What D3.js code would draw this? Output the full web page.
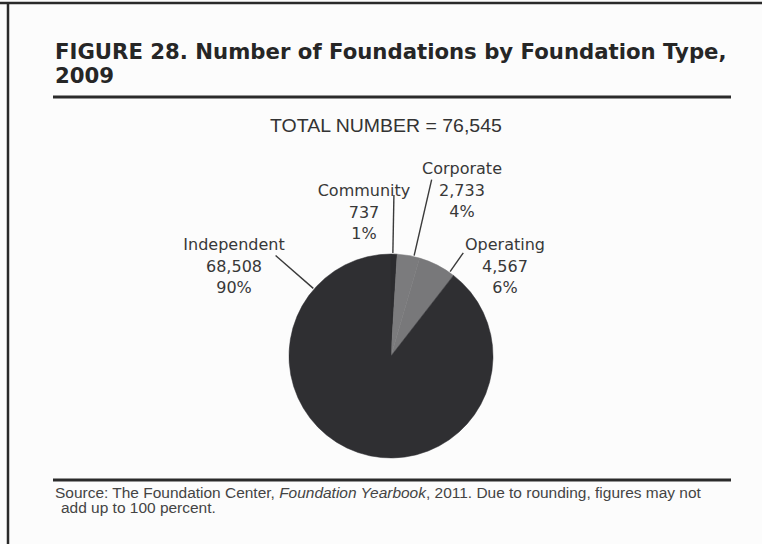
<!DOCTYPE html>
<html>
<head>
<meta charset="utf-8">
<script src="https://cdn.jsdelivr.net/npm/d3@7"></script>
<style>
  html, body { margin: 0; padding: 0; background: #ffffff; overflow: hidden; }
  svg { display: block; }
</style>
</head>
<body>
<script>
// Foundation counts by type, 2009 (clockwise from 12 o'clock)
const categories = ["Community", "Corporate", "Operating", "Independent"];
const counts = [737, 2733, 4567, 68508];
const percentLabels = ["1%", "4%", "6%", "90%"];
const totalNumber = 76545;

const titleLines = ["FIGURE 28. Number of Foundations by Foundation Type,", "2009"];

// Slice fills
const fills = {
  Community: "#2c2c2f",
  Corporate: "#7b7b7d",
  Operating: "#78787a",
  Independent: "#2f2f32"
};

// Label placement: text centre, first baseline, leader angle (fraction of slice) and leader length
const labelLayout = {
  Community:   { x: 364, y: 196, frac: 0.30, rOut: 161 },
  Corporate:   { x: 462, y: 174, frac: 0.74, rOut: 181 },
  Operating:   { x: 505, y: 250, frac: 0.87, rOut: 126 },
  Independent: { x: 234, y: 250, frac: 0.848, rOut: 153 }
};

const W = 762, H = 544;
const cx = 391, cy = 356, R = 102;
const lineGap = 21.5;
const fmt = d3.format(",");

const svg = d3.select("body").append("svg")
  .attr("width", W).attr("height", H);

svg.append("rect").attr("width", W).attr("height", H).attr("fill", "#fcfcfc");

// Frame edges (top and left)
svg.append("line").attr("x1", 0).attr("x2", W).attr("y1", 3).attr("y2", 3)
  .attr("stroke", "#2a2a2a").attr("stroke-width", 2.5);
svg.append("line").attr("x1", 8).attr("x2", 8).attr("y1", 2).attr("y2", H)
  .attr("stroke", "#2a2a2a").attr("stroke-width", 2.5);

// Place a text element at (x, baseline), scaled horizontally to a given width
function fitText(sel, x, y, width, anchor) {
  const w = sel.node().getComputedTextLength();
  const k = width / w;
  let x0 = x;
  if (anchor === "middle") x0 = x - width / 2;
  sel.attr("x", 0).attr("y", 0)
    .attr("transform", `translate(${x0},${y}) scale(${k},1)`);
  return k;
}

// Title
const titleFont = "'DejaVu Sans', sans-serif";
const t1 = svg.append("text").text(titleLines[0])
  .attr("font-family", titleFont).attr("font-weight", "bold")
  .attr("font-size", 21).attr("fill", "#262626");
const tk = fitText(t1, 55, 59, 672);
const t2 = svg.append("text").text(titleLines[1])
  .attr("font-family", titleFont).attr("font-weight", "bold")
  .attr("font-size", 21).attr("fill", "#262626")
  .attr("transform", `translate(55,83) scale(${tk},1)`);

svg.append("line").attr("x1", 53).attr("x2", 731).attr("y1", 97).attr("y2", 97)
  .attr("stroke", "#2b2b2b").attr("stroke-width", 3);

// Total
const tot = svg.append("text").text(`TOTAL NUMBER = ${fmt(totalNumber)}`)
  .attr("font-family", "'Liberation Sans', Arial, sans-serif")
  .attr("font-size", 18).attr("fill", "#333");
fitText(tot, 386, 132, 232, "middle");

// Pie
const data = categories.map((c, i) => ({ name: c, count: counts[i], pct: percentLabels[i] }));
const pie = d3.pie().sort(null).value(d => d.count).startAngle(0).endAngle(2 * Math.PI);
const arcs = pie(data);
const arc = d3.arc().innerRadius(0).outerRadius(R);

const g = svg.append("g").attr("transform", `translate(${cx},${cy})`);
g.selectAll("path.slice").data(arcs).join("path")
  .attr("class", "slice")
  .attr("d", arc)
  .attr("fill", d => fills[d.data.name])
  .attr("stroke", d => fills[d.data.name])
  .attr("stroke-width", 0.5);

// Leader lines
g.selectAll("line.leader").data(arcs).join("line")
  .attr("class", "leader")
  .each(function (d) {
    const L = labelLayout[d.data.name];
    const a = d.startAngle + (d.endAngle - d.startAngle) * L.frac;
    d3.select(this)
      .attr("x1", (R + 1) * Math.sin(a)).attr("y1", -(R + 1) * Math.cos(a))
      .attr("x2", L.rOut * Math.sin(a)).attr("y2", -L.rOut * Math.cos(a));
  })
  .attr("stroke", "#3a3a3a").attr("stroke-width", 1.4);

// Labels: name, count, percent
const labelFont = "'DejaVu Sans', sans-serif";
arcs.forEach(d => {
  const L = labelLayout[d.data.name];
  const lines = [d.data.name, fmt(d.data.count), d.data.pct];
  svg.append("text")
    .attr("font-family", labelFont).attr("font-size", 16)
    .attr("fill", "#383838").attr("text-anchor", "middle")
    .selectAll("tspan").data(lines).join("tspan")
    .attr("x", L.x).attr("y", (s, i) => L.y + i * lineGap)
    .text(s => s);
});

// Bottom rule and source note
svg.append("line").attr("x1", 53).attr("x2", 731).attr("y1", 480).attr("y2", 480)
  .attr("stroke", "#2b2b2b").attr("stroke-width", 3);

const srcFont = "'Liberation Sans', Arial, sans-serif";
const s1 = svg.append("text").attr("font-family", srcFont).attr("font-size", 14).attr("fill", "#444");
s1.append("tspan").text("Source: The Foundation Center, ");
s1.append("tspan").attr("font-style", "italic").text("Foundation Yearbook");
s1.append("tspan").text(", 2011. Due to rounding, figures may not");
const srcK = 646 / s1.node().getComputedTextLength();
s1.attr("transform", `translate(55,498) scale(${srcK},1)`);

svg.append("text").attr("font-family", srcFont).attr("font-size", 14).attr("fill", "#444")
  .text("add up to 100 percent.")
  .attr("transform", `translate(61,513) scale(${srcK},1)`);
</script>
</body>
</html>
